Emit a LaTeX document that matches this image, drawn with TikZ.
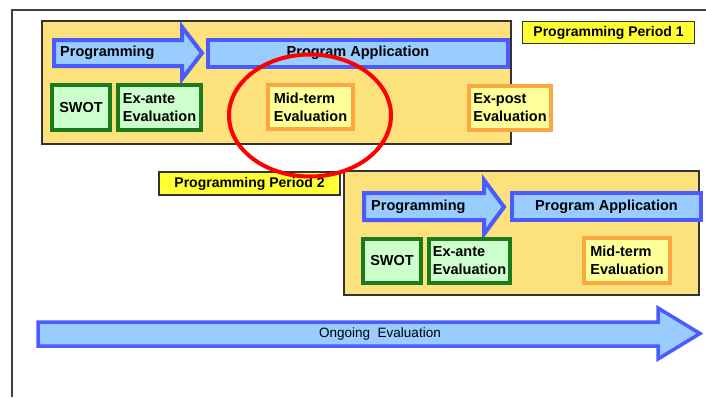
\documentclass[tikz,border=0pt]{standalone}
\usepackage{fontspec}
\setmainfont{Liberation Sans}
\definecolor{periodfill}{HTML}{FCE17C}
\definecolor{tagyellow}{HTML}{FFFF33}
\definecolor{flowblue}{HTML}{4B5BFF}
\definecolor{flowfill}{HTML}{99CCFF}
\definecolor{evgreen}{HTML}{1B7A1B}
\definecolor{evgreenfill}{HTML}{CCFFCC}
\definecolor{evorange}{HTML}{FCA842}
\definecolor{evyellow}{HTML}{FFFF99}

\begin{document}
\begin{tikzpicture}[x=1pt, y=-1pt, line join=miter,
  period/.style={draw=black!80, line width=1.2pt, fill=periodfill},
  tag/.style={draw=black!80, line width=1.2pt, fill=tagyellow, inner sep=0pt,
              font=\bfseries\fontsize{14}{17}\selectfont},
  flow/.style={draw=flowblue, fill=flowfill, line width=4pt},
  flowtext/.style={inner sep=0pt, font=\bfseries\fontsize{14.5}{18}\selectfont},
  before/.style={draw=evgreen, fill=evgreenfill, line width=4pt, inner sep=0pt,
                 align=left, font=\bfseries\fontsize{14.5}{18}\selectfont},
  after/.style={draw=evorange, fill=evyellow, line width=4pt, inner sep=0pt,
                align=left, font=\bfseries\fontsize{14.5}{18}\selectfont}]

  \path[use as bounding box] (0,0) rectangle (706,397);

  % ── Rahmen (nur links und oben sichtbar) ──
  \draw[black!75, line width=1.3pt] (12,397) -- (12,10) -- (706,10);

  % ── Programmperiode 1 ──
  \draw[period] (42,21) rectangle (511,144);
  \node[tag, minimum width=172, minimum height=22] (ppA) at (608.5,32.5) {Programming Period 1};

  \draw[flow] (54,40) -- (182,40) -- (182,27) -- (202,53) -- (182,79) -- (182,66)
           -- (54,66) -- cycle;
  \node[flowtext, anchor=west] (progA) at (60,53) {Programming};
  \node[flow, minimum width=300, minimum height=27, inner sep=0pt] (applA) at (358,53) {};
  \node[flowtext] (applAtext) at (applA) {Program Application};

  \node[before, minimum width=58, minimum height=45] (swotA) at (81,107.5) {SWOT};
  \node[before, minimum width=83, minimum height=45] (exanteA) at (159.5,107.5) {Ex-ante\\Evaluation};
  \node[after, minimum width=85, minimum height=44] (midA) at (310.5,107) {Mid-term\\Evaluation};
  \node[after, minimum width=82, minimum height=44] (expostA) at (510,108) {Ex-post\\Evaluation};

  % ── Programmperiode 2 ──
  \draw[period] (344,171) rectangle (699,295);
  \node[tag, minimum width=181, minimum height=23] (ppB) at (249.5,183.5) {Programming Period 2};

  \draw[flow] (364,193) -- (484,193) -- (484,180) -- (504,207) -- (484,234) -- (484,220)
           -- (364,220) -- cycle;
  \node[flowtext, anchor=west] (progB) at (371,207) {Programming};
  \node[flow, minimum width=189, minimum height=27, inner sep=0pt] (applB) at (606.5,206.5) {};
  \node[flowtext] (applBtext) at (applB) {Program Application};

  \node[before, minimum width=58, minimum height=44] (swotB) at (392,261) {SWOT};
  \node[before, minimum width=81, minimum height=44] (exanteB) at (469.5,261) {Ex-ante\\Evaluation};
  \node[after, minimum width=86, minimum height=45] (midB) at (627,260.5) {Mid-term\\Evaluation};

  % ── laufende Bewertung ──
  \draw[flow, line width=3.5pt] (38,322) -- (658,322) -- (658,308) -- (700,333.5)
           -- (658,359) -- (658,346) -- (38,346) -- cycle;
  \node[inner sep=0pt, font=\fontsize{13.5}{16}\selectfont] (ongoing) at (380,334) {Ongoing\ \ Evaluation};

  % ── rote Markierung ──
  \draw[red, line width=4pt] (310,115.5) ellipse [x radius=81, y radius=61];
\end{tikzpicture}
\end{document}
